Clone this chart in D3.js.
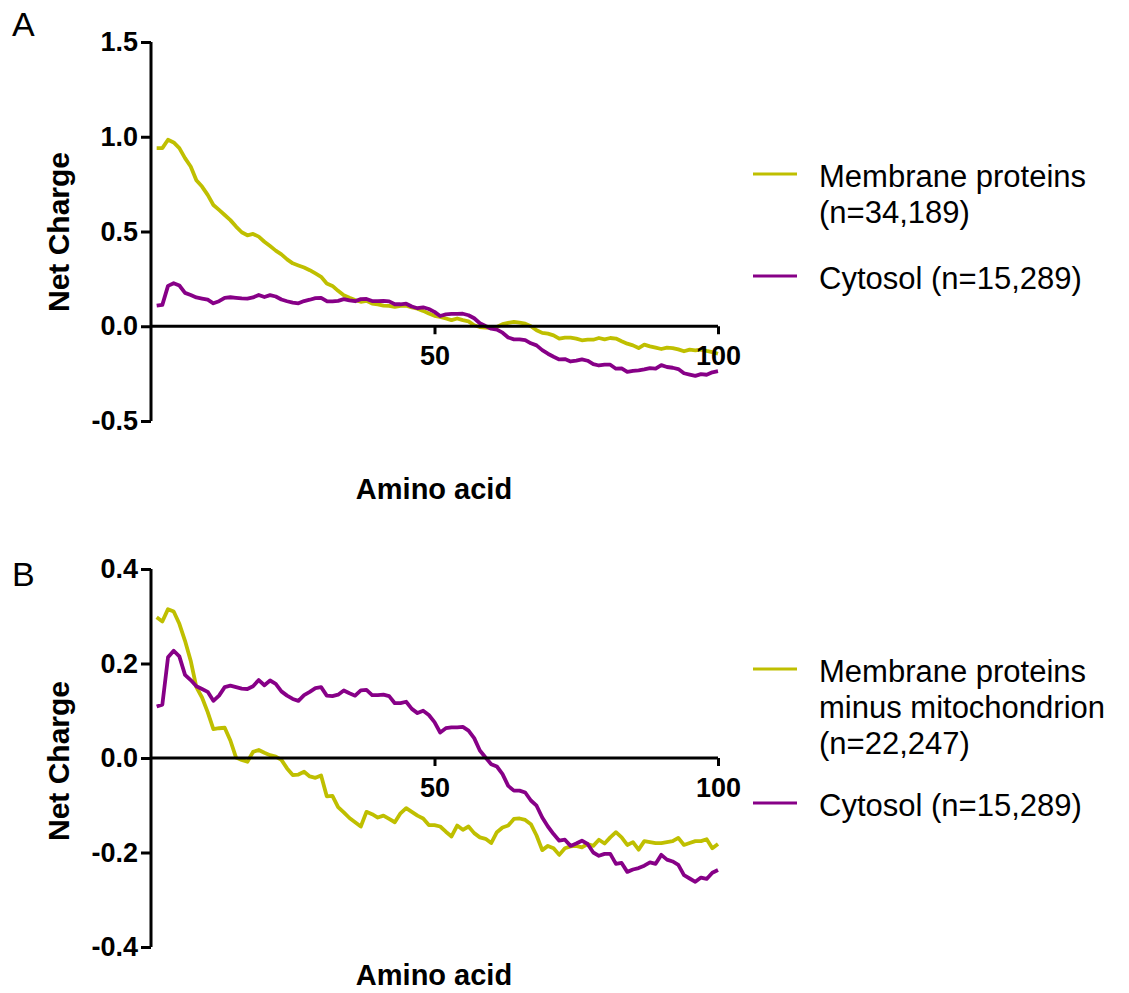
<!DOCTYPE html>
<html>
<head>
<meta charset="utf-8">
<script src="https://cdn.jsdelivr.net/npm/d3@7"></script>
<style>
  html, body { margin: 0; padding: 0; background: #fff; }
  svg { display: block; font-family: "Liberation Sans", Arial, sans-serif; }
</style>
</head>
<body>
<svg id="chart" width="1129" height="993"></svg>
<script>
// Residue positions along the N-terminus
const aminoAcids = d3.range(1, 101);

// Mean net charge per position, membrane proteins (n=34,189)
const membrane = [
  0.94, 0.94, 0.984, 0.97, 0.94, 0.887, 0.843, 0.77, 0.737, 0.693,
  0.64, 0.614, 0.587, 0.56, 0.526, 0.496, 0.48, 0.487, 0.473, 0.446,
  0.423, 0.399, 0.379, 0.353, 0.332, 0.321, 0.31, 0.296, 0.279, 0.261,
  0.226, 0.213, 0.187, 0.164, 0.15, 0.138, 0.129, 0.134, 0.12, 0.115,
  0.109, 0.108, 0.102, 0.108, 0.108, 0.099, 0.093, 0.081, 0.067, 0.055,
  0.049, 0.041, 0.032, 0.041, 0.032, 0.026, 0.005, -0.004, -0.007, -0.009,
  -0.004, 0.011, 0.018, 0.023, 0.019, 0.014, 0.0, -0.021, -0.035, -0.039,
  -0.048, -0.065, -0.06, -0.06, -0.065, -0.074, -0.071, -0.071, -0.062, -0.069,
  -0.062, -0.065, -0.079, -0.092, -0.101, -0.115, -0.097, -0.106, -0.113, -0.12,
  -0.113, -0.115, -0.122, -0.132, -0.123, -0.127, -0.123, -0.13, -0.136, -0.145
];

// Membrane proteins minus mitochondrion (n=22,247)
const membraneNoMito = [
  0.298, 0.289, 0.315, 0.31, 0.284, 0.248, 0.206, 0.15, 0.128, 0.097,
  0.061, 0.063, 0.064, 0.037, 0.001, -0.004, -0.008, 0.013, 0.017, 0.011,
  0.006, 0.003, -0.004, -0.022, -0.036, -0.035, -0.029, -0.039, -0.042, -0.037,
  -0.081, -0.08, -0.104, -0.115, -0.127, -0.136, -0.145, -0.114, -0.119, -0.126,
  -0.122, -0.129, -0.136, -0.117, -0.106, -0.114, -0.122, -0.128, -0.142, -0.142,
  -0.145, -0.156, -0.166, -0.143, -0.152, -0.145, -0.159, -0.168, -0.171, -0.18,
  -0.157, -0.147, -0.143, -0.129, -0.128, -0.131, -0.14, -0.164, -0.195, -0.186,
  -0.191, -0.205, -0.191, -0.187, -0.186, -0.189, -0.182, -0.186, -0.173, -0.181,
  -0.168, -0.157, -0.168, -0.184, -0.178, -0.194, -0.176, -0.178, -0.18, -0.18,
  -0.178, -0.176, -0.169, -0.184, -0.18, -0.176, -0.176, -0.172, -0.191, -0.182
];

// Cytosolic proteins (n=15,289), shared by both panels
const cytosol = [
  0.109, 0.113, 0.213, 0.227, 0.215, 0.176, 0.165, 0.152, 0.146, 0.14,
  0.121, 0.132, 0.15, 0.153, 0.15, 0.147, 0.146, 0.152, 0.165, 0.154,
  0.164, 0.157, 0.141, 0.132, 0.125, 0.121, 0.133, 0.14, 0.148, 0.15,
  0.132, 0.131, 0.134, 0.143, 0.137, 0.132, 0.143, 0.144, 0.133, 0.133,
  0.134, 0.131, 0.116, 0.116, 0.119, 0.104, 0.095, 0.1, 0.091, 0.076,
  0.054, 0.063, 0.065, 0.065, 0.066, 0.058, 0.042, 0.016, 0.001, -0.013,
  -0.018, -0.034, -0.059, -0.069, -0.069, -0.073, -0.09, -0.101, -0.126, -0.145,
  -0.161, -0.175, -0.173, -0.186, -0.181, -0.175, -0.182, -0.2, -0.207, -0.203,
  -0.203, -0.224, -0.222, -0.241, -0.236, -0.233, -0.228, -0.221, -0.224, -0.205,
  -0.215, -0.219, -0.226, -0.248, -0.255, -0.262, -0.253, -0.256, -0.243, -0.237
];

const yTicksA = [-0.5, 0.0, 0.5, 1.0, 1.5];
const yTicksB = [-0.4, -0.2, 0.0, 0.2, 0.4];
const xTicks = [50, 100];

const legendA = [
  { lines: ["Membrane proteins", "(n=34,189)"], key: "membrane" },
  { lines: ["Cytosol (n=15,289)"], key: "cytosol" }
];
const legendB = [
  { lines: ["Membrane proteins", "minus mitochondrion", "(n=22,247)"], key: "membrane" },
  { lines: ["Cytosol (n=15,289)"], key: "cytosol" }
];

const colors = { membrane: "#bfbf00", cytosol: "#870087" };

// one decimal, plain hyphen for negatives
const fmtY = d => d.toFixed(1);

const svg = d3.select("#chart");
const x = d3.scaleLinear().domain([0, 100]).range([151, 718]);

function panel(opt) {
  const g = svg.append("g");
  const y = d3.scaleLinear().domain(opt.yDomain).range(opt.yRange);

  // series
  const line = d3.line().x((d, i) => x(aminoAcids[i])).y(d => y(d));
  opt.series.forEach(s => {
    g.append("path")
      .datum(s.values)
      .attr("fill", "none")
      .attr("stroke", colors[s.key])
      .attr("stroke-width", 3.8)
      .attr("stroke-linejoin", "round")
      .attr("d", line);
  });

  // y axis
  const yAxis = g.append("g")
    .attr("transform", `translate(${x(0)},0)`)
    .call(d3.axisLeft(y).tickValues(opt.yTicks).tickFormat(fmtY).tickSize(10).tickPadding(3));
  yAxis.select(".domain").attr("stroke-width", 3).attr("d", `M0,${y(opt.yDomain[0])}V${y(opt.yDomain[1])}`);
  yAxis.selectAll(".tick line").attr("stroke-width", 3);
  yAxis.selectAll(".tick text")
    .attr("font-size", 27).attr("font-weight", "bold").attr("fill", "#000")
    .attr("font-family", "Liberation Sans, Arial, sans-serif");

  // x axis through zero
  const xAxis = g.append("g")
    .attr("transform", `translate(0,${y(0)})`)
    .call(d3.axisBottom(x).tickValues(xTicks).tickFormat(d3.format("d")).tickSize(8).tickPadding(12));
  xAxis.select(".domain").attr("stroke-width", 3).attr("d", `M${x(0)},0H${x(100)}`);
  xAxis.selectAll(".tick line").attr("stroke-width", 3);
  xAxis.selectAll(".tick text")
    .attr("font-size", 27).attr("font-weight", "bold").attr("fill", "#000")
    .attr("font-family", "Liberation Sans, Arial, sans-serif");

  // axis titles
  g.append("text")
    .attr("transform", `translate(69,${opt.yTitleY}) rotate(-90)`)
    .attr("text-anchor", "middle")
    .attr("font-size", 30).attr("font-weight", "bold")
    .text("Net Charge");
  g.append("text")
    .attr("x", 434).attr("y", opt.xTitleY)
    .attr("text-anchor", "middle")
    .attr("font-size", 29).attr("font-weight", "bold")
    .text("Amino acid");

  // panel letter
  g.append("text")
    .attr("x", 12).attr("y", opt.letterY)
    .attr("font-size", 34)
    .text(opt.letter);

  // legend
  opt.legend.forEach((item, k) => {
    const ly = opt.legendY[k];
    g.append("line")
      .attr("x1", 753).attr("x2", 797)
      .attr("y1", ly).attr("y2", ly)
      .attr("stroke", colors[item.key]).attr("stroke-width", 3.2);
    const t = g.append("text")
      .attr("x", 819).attr("y", ly + 13)
      .attr("font-size", 31);
    item.lines.forEach((s, j) => {
      t.append("tspan").attr("x", 819).attr("dy", j === 0 ? 0 : 36).text(s);
    });
  });
}

panel({
  yDomain: [-0.5, 1.5], yRange: [421, 42], yTicks: yTicksA,
  series: [{ key: "membrane", values: membrane }, { key: "cytosol", values: cytosol }],
  yTitleY: 232, xTitleY: 499, letter: "A", letterY: 36,
  legend: legendA, legendY: [174, 276]
});

panel({
  yDomain: [-0.4, 0.4], yRange: [947, 569], yTicks: yTicksB,
  series: [{ key: "membrane", values: membraneNoMito }, { key: "cytosol", values: cytosol }],
  yTitleY: 761, xTitleY: 985, letter: "B", letterY: 586,
  legend: legendB, legendY: [669, 803]
});
</script>
</body>
</html>
